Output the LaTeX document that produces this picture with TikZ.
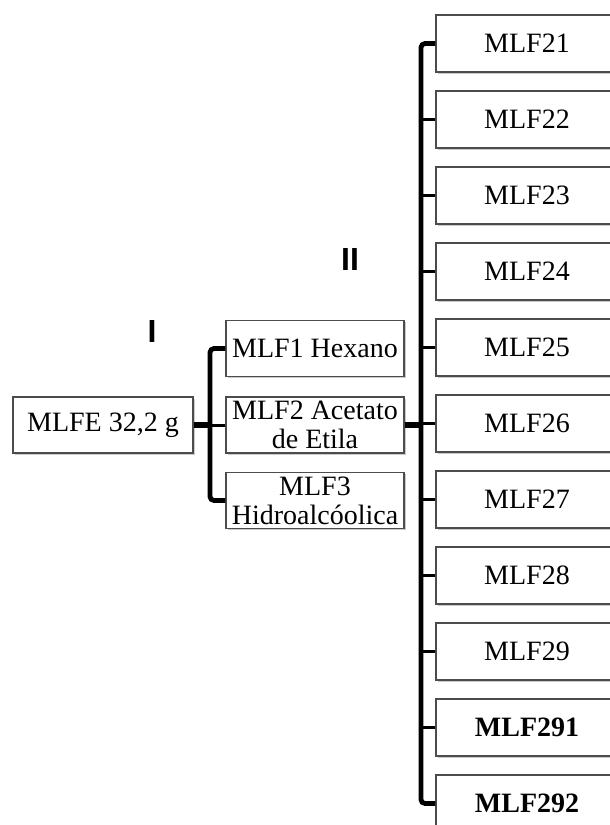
\documentclass[tikz,border=0pt]{standalone}
\usepackage{fontspec}
\setmainfont{Liberation Serif}
\newfontfamily\labelfont{Liberation Sans}
\usetikzlibrary{shadows}
\begin{document}
\begin{tikzpicture}[x=0.5pt,y=-0.5pt,
  box/.style={draw=black!70, line width=0.6pt, fill=white, inner sep=0pt,
    align=center, font=\fontsize{14}{14.5}\selectfont,
    drop shadow={shadow xshift=0.8pt, shadow yshift=-0.8pt, fill=black!35, opacity=0.6}},
  fracbox/.style={box, minimum width=91pt, minimum height=28.5pt},
  midbox/.style={box, minimum width=89pt, minimum height=28pt},
  bar/.style={line width=2.4pt, rounded corners=2pt},
  tick/.style={line width=1.5pt},
  link/.style={line width=3pt},
  stage/.style={font=\labelfont\bfseries\fontsize{16}{16}\selectfont, inner sep=0pt}]
\useasboundingbox (0,0) rectangle (610,825);
\clip (0,0) rectangle (610,825);

% crude extract
\node[box, minimum width=90pt, minimum height=28pt] (mlfe) at (103,425) {MLFE 32,2 g};

% partition I
\node[midbox] (b1) at (315,348.5) {MLF1 Hexano};
\node[midbox] (b2) at (315,425) {MLF2 Acetato\\de Etila};
\node[midbox] (b3) at (315,500.5) {MLF3\\Hidroalcóolica};

% fractions of MLF2
\foreach \n [count=\k from 0] in {21,22,23,24,25,26,27,28,29} {
  \node[fracbox] (f\n) at (527,{43.5+76*\k}) {MLF\n};
}
\node[fracbox] (f291) at (527,727.5) {\bfseries MLF291};
\node[fracbox] (f292) at (527,803.5) {\bfseries MLF292};

% stage labels
\node[stage] (s1) at (152,331) {I};
\node[stage] (s2) at (350,259) {II};

% bracket I
\coordinate (hubL) at (210,425);
\draw[bar] (b1.west) -| (hubL) |- (b3.west);
\draw[tick] (b2.west) -- (hubL);
\draw[link] (mlfe.east) -- (hubL);

% bracket II
\coordinate (hubR) at (421,425);
\draw[bar] (f21.west) -| (hubR) |- (f292.west);
\foreach \n in {22,23,24,25,26,27,28,29,291} {
  \draw[tick] (f\n.west) -- (f\n.west -| hubR);
}
\draw[link] (b2.east) -- (hubR);
\end{tikzpicture}
\end{document}
